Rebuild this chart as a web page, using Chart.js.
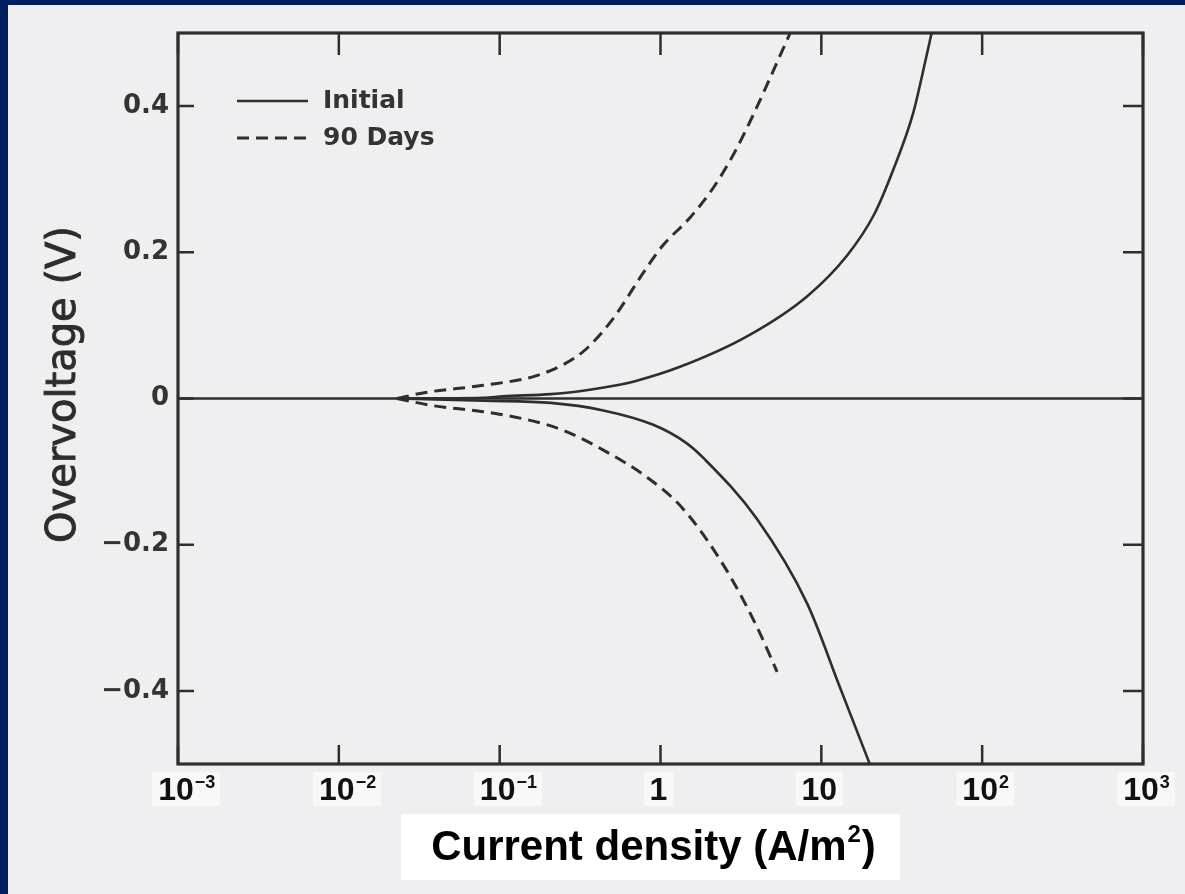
<!DOCTYPE html>
<html>
<head>
<meta charset="utf-8">
<script src="https://cdn.jsdelivr.net/npm/chart.js@4.4.0/dist/chart.umd.min.js"></script>
<style>
  html, body { margin: 0; padding: 0; background: #001f5f; }
  #wrap { width: 1185px; height: 894px; position: relative; }
</style>
</head>
<body>
<div id="wrap"><canvas id="chart"></canvas></div>
<script>
// tick values
const xTicks = [0.001, 0.01, 0.1, 1, 10, 100, 1000];
const yTicks = [-0.4, -0.2, 0, 0.2, 0.4];

// Initial, anodic branch (upper)
const initialUpX = [0.023, 0.079, 0.105, 0.208, 0.338, 0.502, 0.703, 1.31, 3.45, 8.18, 14.5, 21.2, 28.0, 37.2, 44.7, 48.5];
const initialUpY = [0, 0.001, 0.003, 0.006, 0.011, 0.017, 0.024, 0.043, 0.085, 0.140, 0.196, 0.251, 0.313, 0.390, 0.465, 0.50];
// Initial, cathodic branch (lower)
const initialDownX = [0.023, 0.079, 0.208, 0.434, 0.902, 1.45, 1.86, 3.98, 8.18, 13.1, 20.0];
const initialDownY = [0, -0.003, -0.006, -0.016, -0.036, -0.061, -0.082, -0.165, -0.281, -0.396, -0.50];
// 90 days, anodic branch (upper)
const daysUpX = [0.023, 0.034, 0.079, 0.162, 0.252, 0.338, 0.502, 0.815, 1.04, 1.52, 2.14, 2.86, 3.81, 5.09, 6.40];
const daysUpY = [0, 0.008, 0.018, 0.030, 0.047, 0.066, 0.108, 0.178, 0.210, 0.247, 0.289, 0.335, 0.390, 0.451, 0.50];
// 90 days, cathodic branch (lower)
const daysDownX = [0.023, 0.039, 0.079, 0.162, 0.252, 0.453, 0.815, 1.37, 2.48, 3.98, 5.31];
const daysDownY = [0, -0.010, -0.018, -0.031, -0.044, -0.072, -0.107, -0.150, -0.229, -0.3125, -0.374];

const INK = '#2e2e2e';

function pts(xs, ys) {
  return xs.map((x, i) => ({ x: x, y: ys[i] }));
}

function curve(label, xs, ys, dash) {
  return {
    label: label,
    data: pts(xs, ys),
    borderColor: INK,
    borderWidth: dash.length ? 3 : 2.6,
    borderDash: dash,
    pointRadius: 0,
    fill: false,
    cubicInterpolationMode: 'monotone'
  };
}

// frame, inward ticks, labels, legend and titles
const paperPlugin = {
  id: 'paper',
  beforeDraw(chart) {
    const ctx = chart.ctx;
    ctx.save();
    ctx.fillStyle = '#001f5f';
    ctx.fillRect(0, 0, chart.width, chart.height);
    ctx.fillStyle = '#efeff1';
    ctx.fillRect(8, 5, chart.width - 8, chart.height - 5);
    ctx.restore();
  },
  beforeDatasetsDraw(chart) {
    const { ctx, chartArea: a, scales: { y } } = chart;
    const y0 = y.getPixelForValue(0);
    ctx.save();
    ctx.strokeStyle = INK;
    ctx.lineWidth = 2.6;
    ctx.beginPath();
    ctx.moveTo(a.left, y0);
    ctx.lineTo(a.right, y0);
    ctx.stroke();
    ctx.restore();
  },
  afterDraw(chart) {
    const { ctx, chartArea: a, scales: { x, y } } = chart;
    ctx.save();
    ctx.strokeStyle = INK;
    ctx.lineWidth = 3.2;
    ctx.strokeRect(a.left, a.top, a.right - a.left, a.bottom - a.top);

    ctx.lineWidth = 2.5;
    ctx.beginPath();
    xTicks.forEach(v => {
      const px = x.getPixelForValue(v);
      ctx.moveTo(px, a.bottom); ctx.lineTo(px, a.bottom - 19);
      ctx.moveTo(px, a.top); ctx.lineTo(px, a.top + 22);
    });
    yTicks.forEach(v => {
      const py = y.getPixelForValue(v);
      ctx.moveTo(a.left, py); ctx.lineTo(a.left + 16, py);
      ctx.moveTo(a.right, py); ctx.lineTo(a.right - 20, py);
    });
    ctx.stroke();

    // y tick labels
    ctx.fillStyle = '#333';
    ctx.font = 'bold 26px "DejaVu Sans"';
    ctx.textAlign = 'right';
    ctx.textBaseline = 'middle';
    yTicks.forEach(v => {
      const s = v === 0 ? '0' : (v < 0 ? '\u2212' : '') + Math.abs(v).toFixed(1);
      ctx.fillText(s, a.left - 9, y.getPixelForValue(v));
    });

    // x tick labels with superscript exponents
    ctx.textAlign = 'left';
    ctx.textBaseline = 'alphabetic';
    const base = a.bottom + 36;
    xTicks.forEach(v => {
      const e = Math.round(Math.log10(v));
      const px = x.getPixelForValue(v);
      let main = e === 0 ? '1' : '10';
      let sup = (e === 0 || e === 1) ? '' : (e < 0 ? '\u2212' : '') + Math.abs(e);
      ctx.font = 'bold 32px "Liberation Sans"';
      const wm = ctx.measureText(main).width;
      ctx.font = 'bold 18px "Liberation Sans"';
      const ws = ctx.measureText(sup).width;
      const x0 = px - wm / 2 - 2;
      ctx.fillStyle = '#f8f8f9';
      ctx.fillRect(x0 - 6, base - 28, wm + ws + 12, 34);
      ctx.fillStyle = '#111';
      ctx.font = 'bold 32px "Liberation Sans"';
      ctx.fillText(main, x0, base);
      if (sup) {
        ctx.font = 'bold 18px "Liberation Sans"';
        ctx.fillText(sup, x0 + wm + 1, base - 12);
      }
    });

    // x axis title on white box
    const t1 = 'Current density (A/m', t2 = '2', t3 = ')';
    ctx.font = 'bold 42px "Liberation Sans"';
    const w1 = ctx.measureText(t1).width, w3 = ctx.measureText(t3).width;
    ctx.font = 'bold 24px "Liberation Sans"';
    const w2 = ctx.measureText(t2).width;
    const cx = (a.left + a.right) / 2 - 8;
    const tb = a.bottom + 96;
    const tx = cx - (w1 + w2 + w3) / 2;
    ctx.fillStyle = '#ffffff';
    ctx.fillRect(tx - 30, tb - 46, w1 + w2 + w3 + 56, 66);
    ctx.fillStyle = '#000';
    ctx.font = 'bold 42px "Liberation Sans"';
    ctx.fillText(t1, tx, tb);
    ctx.font = 'bold 24px "Liberation Sans"';
    ctx.fillText(t2, tx + w1 + 1, tb - 18);
    ctx.font = 'bold 42px "Liberation Sans"';
    ctx.fillText(t3, tx + w1 + w2 + 2, tb);

    // y axis title
    ctx.save();
    ctx.translate(a.left - 113, (a.top + a.bottom) / 2 - 14);
    ctx.rotate(-Math.PI / 2);
    ctx.textAlign = 'center';
    ctx.textBaseline = 'middle';
    ctx.font = '40px "DejaVu Sans"';
    ctx.fillStyle = '#2d2d2d';
    ctx.strokeStyle = '#2d2d2d';
    ctx.lineWidth = 0.9;
    ctx.fillText('Overvoltage (V)', 0, 0);
    ctx.strokeText('Overvoltage (V)', 0, 0);
    ctx.restore();

    // legend, one entry per label
    const seen = [];
    chart.data.datasets.forEach(ds => {
      if (!seen.find(s => s.label === ds.label)) seen.push(ds);
    });
    ctx.font = 'bold 25px "DejaVu Sans"';
    ctx.textBaseline = 'middle';
    ctx.textAlign = 'left';
    seen.forEach((ds, i) => {
      const ly = a.top + 68 + i * 37;
      ctx.strokeStyle = INK;
      ctx.lineWidth = ds.borderWidth;
      ctx.setLineDash(ds.borderDash || []);
      ctx.beginPath();
      ctx.moveTo(a.left + 59, ly);
      ctx.lineTo(a.left + 130, ly);
      ctx.stroke();
      ctx.setLineDash([]);
      ctx.fillStyle = '#333';
      ctx.fillText(ds.label, a.left + 145, ly);
    });
    ctx.restore();
  }
};

new Chart(document.getElementById('chart'), {
  type: 'line',
  data: {
    datasets: [
      curve('Initial', initialUpX, initialUpY, []),
      curve('90 Days', daysUpX, daysUpY, [12, 7]),
      curve('Initial', initialDownX, initialDownY, []),
      curve('90 Days', daysDownX, daysDownY, [12, 7])
    ]
  },
  options: {
    responsive: true,
    maintainAspectRatio: false,
    animation: false,
    layout: {
      padding: { left: 178, top: 33, right: 42, bottom: 130 }
    },
    plugins: {
      legend: { display: false },
      tooltip: { enabled: false }
    },
    scales: {
      x: {
        type: 'logarithmic',
        min: 0.001,
        max: 1000,
        display: false
      },
      y: {
        type: 'linear',
        min: -0.5,
        max: 0.5,
        display: false
      }
    }
  },
  plugins: [paperPlugin]
});
</script>
</body>
</html>
